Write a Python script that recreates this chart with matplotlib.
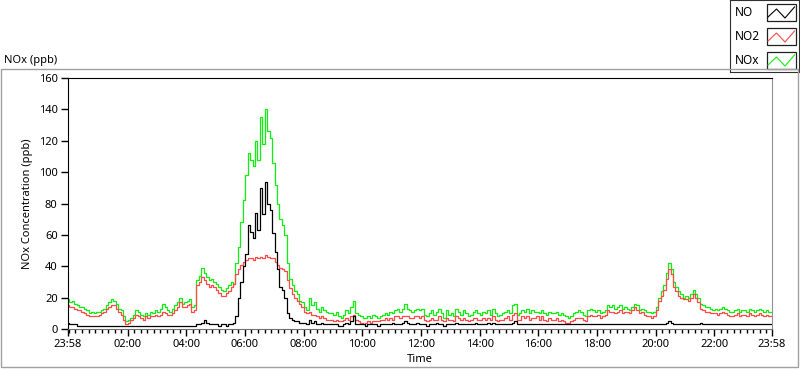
import numpy as np
import matplotlib.pyplot as plt
from matplotlib.patches import Rectangle

plt.rcParams['font.family'] = ['Noto Sans', 'DejaVu Sans']

# minutes after 23:58, one value every 5 minutes (one row = one hour)
nox = [19, 17, 18, 16, 15, 14, 14, 13, 12, 10, 11, 10,
       11, 11, 12, 13, 15, 17, 19, 18, 16, 13, 12, 8,
       5, 6, 7, 9, 12, 11, 9, 8, 10, 9, 11, 10,
       12, 11, 13, 16, 14, 12, 11, 13, 15, 17, 20, 16,
       17, 18, 19, 14, 15, 31, 34, 39, 36, 33, 31, 32,
       30, 29, 27, 25, 24, 26, 28, 30, 29, 42, 52, 68,
       82, 98, 112, 108, 104, 120, 108, 135, 118, 140, 126, 122,
       106, 92, 80, 70, 66, 60, 42, 32, 28, 24, 22, 18,
       17, 14, 12, 20, 15, 17, 13, 11, 14, 12, 11, 10,
       10, 9, 11, 8, 7, 9, 12, 10, 14, 18, 10, 9,
       8, 7, 7, 8, 7, 9, 8, 7, 8, 9, 10, 9,
       11, 10, 12, 13, 11, 13, 16, 13, 12, 11, 12, 13,
       12, 13, 9, 8, 10, 12, 9, 11, 13, 10, 7, 12,
       9, 10, 8, 13, 11, 9, 12, 10, 8, 9, 11, 12,
       10, 9, 11, 10, 12, 9, 13, 10, 8, 9, 10, 11,
       12, 10, 15, 16, 9, 10, 12, 11, 13, 10, 12, 11,
       11, 10, 12, 10, 9, 11, 10, 10, 11, 9, 10, 9,
       8, 7, 8, 10, 11, 12, 11, 9, 8, 12, 13, 12,
       11, 12, 10, 11, 12, 15, 14, 15, 13, 14, 15, 13,
       14, 13, 12, 14, 16, 15, 12, 13, 12, 11, 11, 10,
       11, 14, 20, 24, 28, 36, 42, 38, 30, 27, 24, 22,
       20, 21, 20, 22, 25, 22, 20, 16, 15, 14, 14, 13,
       12, 13, 12, 13, 14, 13, 12, 11, 11, 12, 13, 11,
       12, 12, 11, 13, 12, 11, 12, 13, 12, 11, 12, 11,
       11]

no2 = [15, 14, 14, 13, 12, 12, 11, 10, 9, 8, 8, 8,
       8, 9, 10, 11, 13, 14, 15, 15, 13, 11, 9, 6,
       3, 4, 6, 7, 9, 8, 7, 6, 8, 7, 8, 8,
       9, 8, 9, 11, 10, 9, 9, 10, 12, 14, 17, 14,
       14, 15, 16, 11, 12, 28, 30, 33, 31, 29, 27, 28,
       27, 25, 23, 21, 21, 23, 24, 27, 29, 35, 38, 41,
       43, 44, 45, 45, 44, 46, 45, 46, 45, 47, 46, 45,
       45, 43, 41, 39, 38, 37, 31, 26, 22, 20, 18, 16,
       14, 11, 10, 11, 9, 9, 8, 7, 8, 7, 6, 6,
       6, 5, 6, 5, 5, 6, 7, 6, 8, 9, 6, 5,
       4, 3, 4, 5, 4, 5, 5, 5, 6, 6, 7, 6,
       7, 6, 8, 8, 7, 8, 8, 8, 7, 7, 8, 8,
       7, 8, 6, 5, 6, 7, 6, 6, 8, 6, 5, 7,
       6, 6, 5, 8, 7, 6, 7, 6, 5, 6, 7, 7,
       6, 6, 7, 6, 7, 6, 8, 6, 5, 6, 6, 7,
       8, 6, 9, 10, 6, 6, 8, 7, 8, 6, 7, 7,
       8, 6, 8, 6, 5, 7, 6, 6, 7, 5, 6, 5,
       4, 4, 5, 6, 7, 7, 7, 6, 5, 8, 9, 8,
       8, 9, 7, 8, 9, 12, 11, 11, 10, 11, 12, 10,
       11, 11, 10, 12, 14, 12, 10, 11, 9, 8, 8, 7,
       8, 12, 18, 21, 25, 32, 38, 35, 27, 24, 21, 20,
       19, 19, 18, 20, 22, 20, 17, 13, 12, 11, 11, 10,
       10, 10, 9, 10, 11, 10, 9, 8, 8, 9, 10, 8,
       9, 9, 8, 10, 9, 8, 9, 10, 9, 8, 9, 8,
       8]

no = [4, 3, 3, 3, 2, 2, 2, 2, 2, 2, 2, 2,
      2, 2, 2, 2, 2, 2, 2, 2, 2, 2, 2, 2,
      2, 2, 2, 2, 2, 2, 2, 2, 2, 2, 2, 2,
      2, 2, 2, 2, 2, 2, 2, 2, 2, 2, 2, 2,
      2, 2, 2, 2, 2, 3, 3, 4, 6, 4, 3, 3,
      3, 3, 2, 3, 3, 2, 3, 3, 4, 8, 20, 30,
      40, 48, 66, 62, 58, 74, 63, 90, 73, 94, 80, 76,
      61, 49, 38, 27, 25, 20, 10, 7, 6, 5, 5, 4,
      4, 4, 3, 6, 4, 5, 3, 3, 4, 3, 3, 3,
      3, 3, 3, 2, 2, 3, 4, 3, 5, 8, 3, 3,
      3, 3, 2, 3, 3, 3, 3, 2, 3, 3, 3, 3,
      3, 4, 3, 3, 3, 4, 5, 4, 3, 3, 3, 4,
      3, 3, 3, 2, 3, 3, 3, 4, 3, 3, 2, 3,
      3, 3, 3, 4, 3, 3, 3, 3, 3, 3, 3, 4,
      3, 3, 3, 3, 4, 3, 4, 3, 3, 3, 3, 3,
      3, 3, 4, 5, 3, 3, 3, 3, 3, 3, 3, 3,
      3, 3, 3, 3, 3, 3, 3, 3, 3, 3, 3, 3,
      3, 3, 3, 3, 3, 3, 3, 3, 3, 3, 3, 3,
      3, 3, 3, 3, 3, 3, 3, 3, 3, 3, 3, 3,
      3, 3, 3, 3, 3, 3, 3, 3, 3, 3, 3, 3,
      3, 3, 3, 3, 3, 4, 5, 4, 3, 3, 3, 3,
      3, 3, 3, 3, 3, 3, 3, 4, 3, 3, 3, 3,
      3, 3, 3, 3, 3, 3, 3, 3, 3, 3, 3, 3,
      3, 3, 3, 3, 3, 3, 3, 3, 3, 3, 3, 3,
      3]

t = np.arange(len(nox)) * 5  # minutes after 23:58

tick_pos = [0, 122, 242, 362, 482, 602, 722, 842, 962, 1082, 1202, 1322, 1440]
tick_labels = ['23:58', '02:00', '04:00', '06:00', '08:00', '10:00', '12:00',
               '14:00', '16:00', '18:00', '20:00', '22:00', '23:58']
series_names = ['NO', 'NO2', 'NOx']
colors = ['black', '#ff4a4a', '#10f010']

W, H = 800, 369
fig = plt.figure(figsize=(W / 100, H / 100), dpi=100)

# outer panel frame
fig.add_artist(Rectangle((0.5 / W, 2 / H), 797 / W, (H - 69 - 2) / H,
                         transform=fig.transFigure, fill=False,
                         edgecolor='#a0a0a0', lw=1))
fig.text(4 / W, 1 - 60 / H, 'NOx (ppb)', fontsize=8, va='center', ha='left')

ax = fig.add_axes([68 / W, 1 - 329 / H, 704 / W, 251 / H])
ax.plot(t, nox, color=colors[2], lw=0.9, drawstyle='steps-mid')
ax.plot(t, no2, color=colors[1], lw=0.9, drawstyle='steps-mid')
ax.plot(t, no, color=colors[0], lw=0.9, drawstyle='steps-mid')

ax.set_xlim(0, 1440)
ax.set_ylim(0, 160)
ax.set_yticks(np.arange(0, 161, 20))
ax.set_xticks(tick_pos)
ax.set_xticklabels(tick_labels)
minor = [122 + k * 120 / 9 for k in range(-9, 100)]
minor = [m for m in minor if 0 < m < 1440 and all(abs(m - p) > 1 for p in tick_pos)]
ax.set_xticks(minor, minor=True)
ax.tick_params(axis='both', labelsize=8, length=5, width=1, pad=2.5)
ax.tick_params(axis='x', which='minor', length=3, width=1)
for s in ['left', 'top', 'bottom']:
    ax.spines[s].set_color('black')
ax.spines['right'].set_color('#909090')
ax.spines['bottom'].set_color('#707070')

ax.set_ylabel('NOx Concentration (ppb)', fontsize=8)
ax.yaxis.set_label_coords(-0.05, 0.5)
ax.set_xlabel('Time', fontsize=8, va='center')
ax.xaxis.set_label_coords(0.5, -0.123)

# legend box (top right)
lg = fig.add_axes([730 / W, 1 - 72 / H, 69 / W, 72 / H])
lg.set_xlim(730, 799)
lg.set_ylim(72, 0)
lg.set_xticks([])
lg.set_yticks([])
for s in lg.spines.values():
    s.set_color('#303030')
box_tops = [4, 28, 52]
for name, c, y0 in zip(series_names, colors, box_tops):
    lg.text(735, y0 + 8.5, name, fontsize=8.5, va='center', ha='left')
    lg.add_patch(Rectangle((766.5, y0), 29.5, 17, fill=False,
                           edgecolor='#202020', lw=0.9))
    zx = [768, 776.5, 785, 794.5]
    zy = [y0 + 13, y0 + 5, y0 + 14, y0 + 3]
    lg.plot(zx, zy, color=c, lw=0.8)

fig.savefig('out.png', dpi=100)
